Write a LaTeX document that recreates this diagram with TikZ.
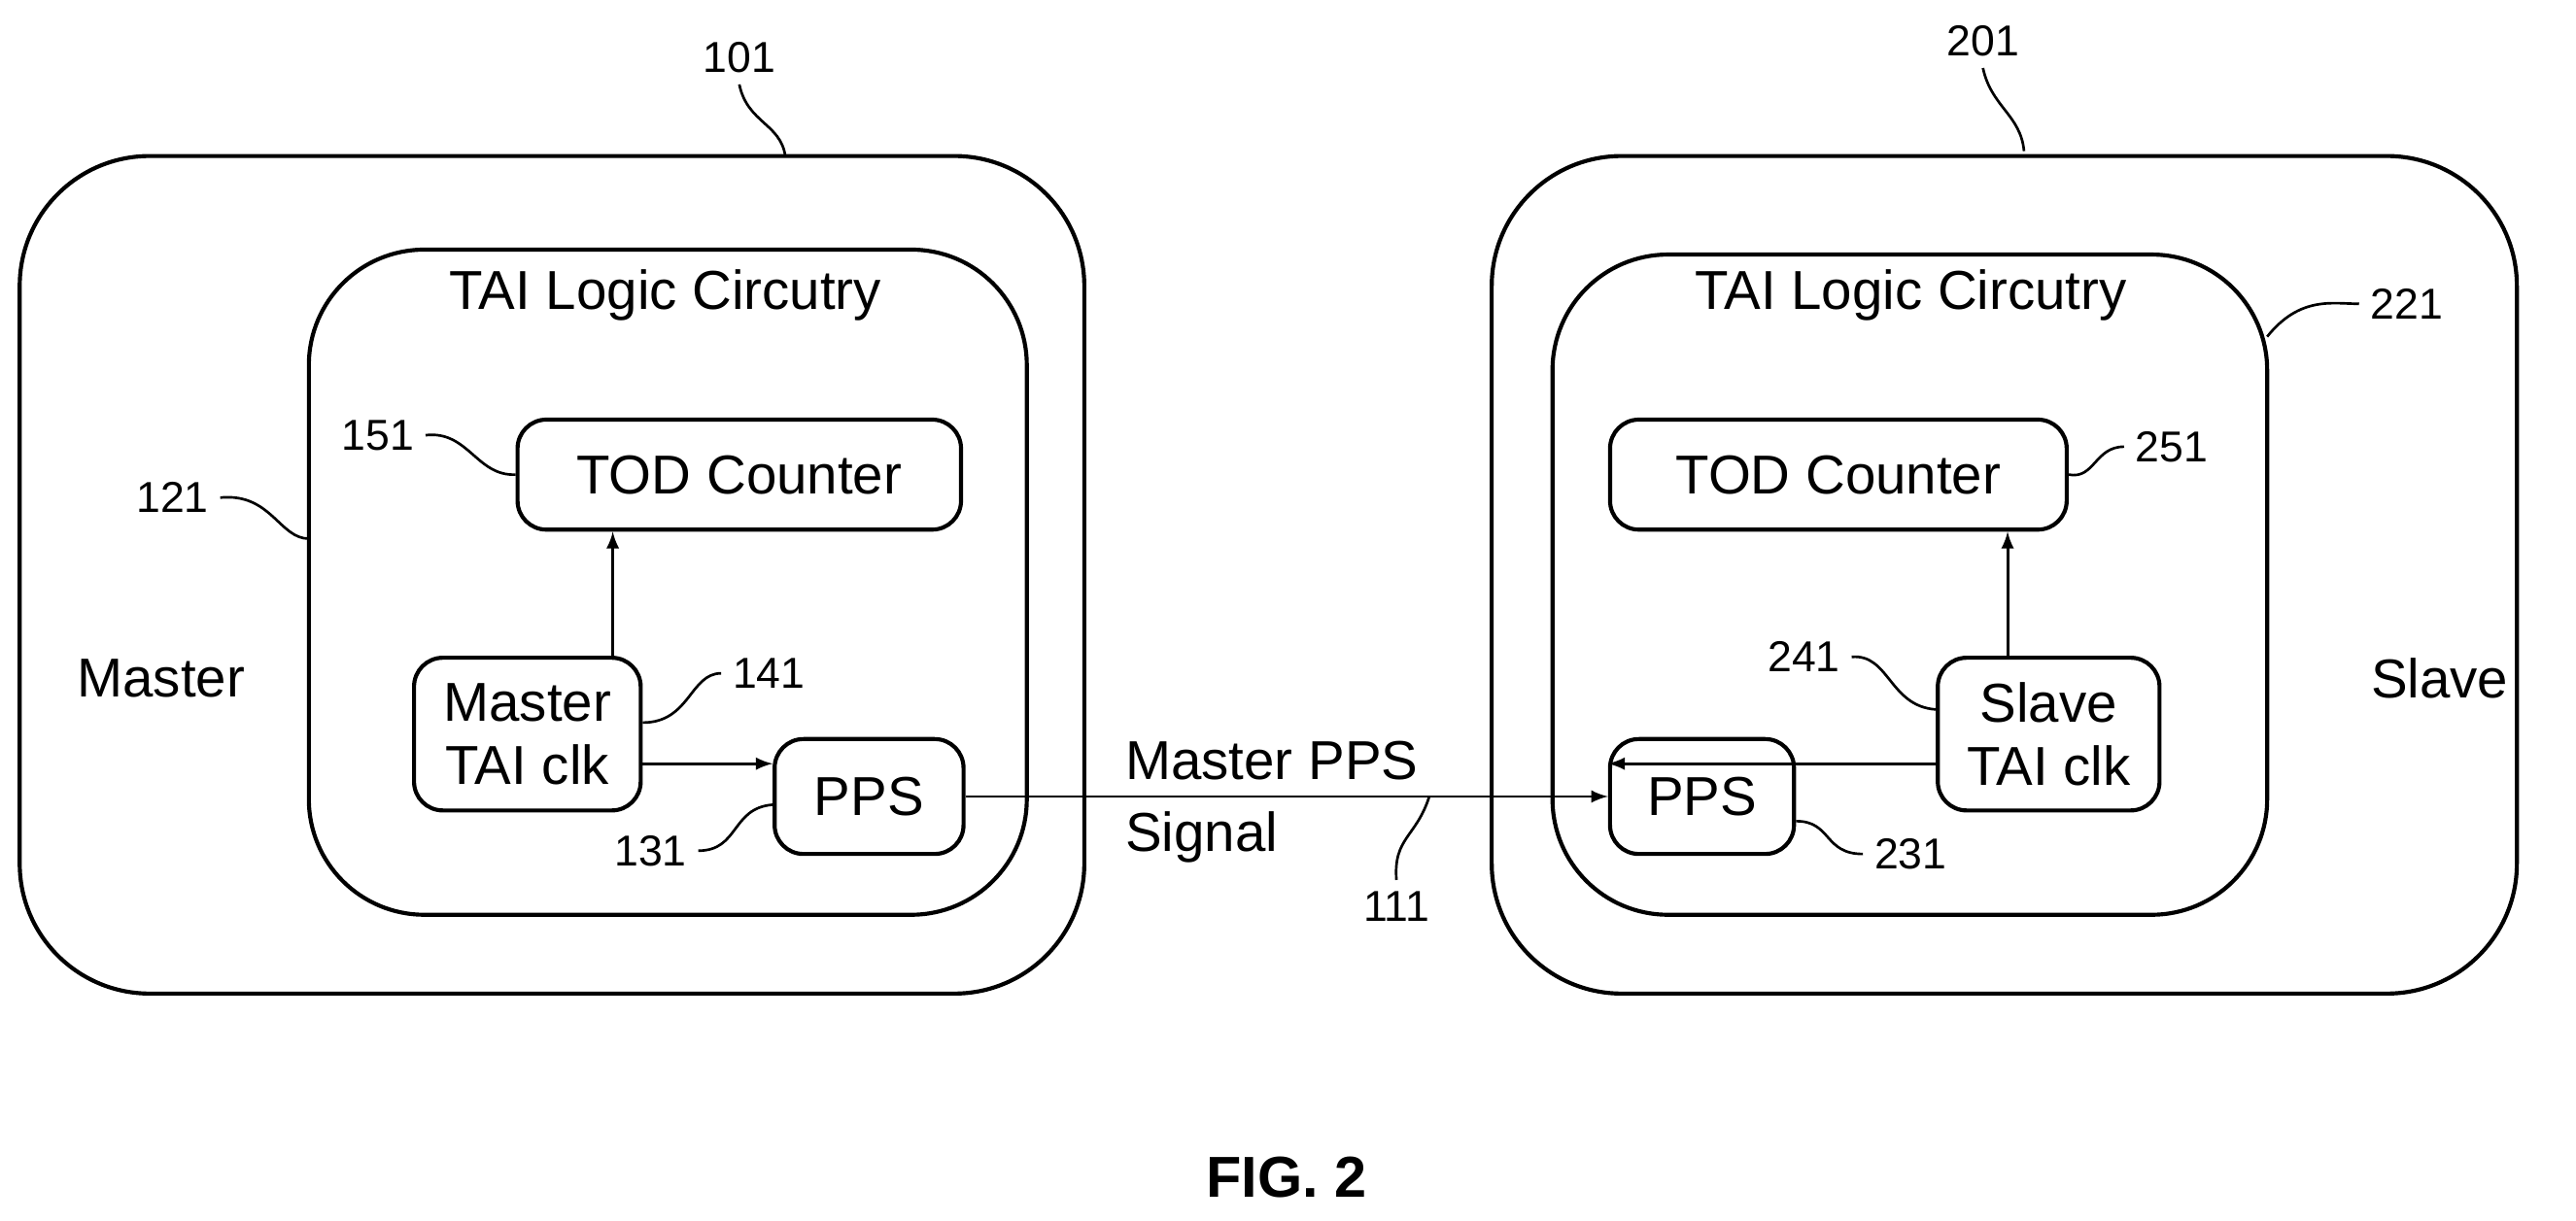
\documentclass[tikz,border=0pt]{standalone}
\usepackage{fontspec}
\setmainfont{Liberation Sans}
\begin{document}
\begin{tikzpicture}[x=0.02cm,y=-0.02cm,line width=1.4pt,
  big/.style={font=\fontsize{19}{22}\selectfont},
  lab/.style={font=\fontsize{15}{18}\selectfont},
  blk/.style={draw,rounded corners=10pt,inner sep=0pt},
  lead/.style={line width=0.9pt},
  arr/.style={-latex,line width=1pt}]
\useasboundingbox (0,0) rectangle (1568,743);
% outer boxes
\draw[rounded corners=45pt] (12,95) rectangle (660,605);
\draw[rounded corners=40pt] (188,152) rectangle (625,557);
\draw[rounded corners=45pt] (908,95) rectangle (1532,605);
\draw[rounded corners=40pt] (945,155) rectangle (1380,557);
\node[big] (t1) at (405,180) {TAI Logic Circutry};
\node[big] (t2) at (1163,180) {TAI Logic Circutry};
% blocks
\node[blk,minimum width=270\pgflinewidth*0+5.4cm,minimum height=1.34cm,big] (tod1) at (450,289) {TOD Counter};
\node[blk,minimum width=5.56cm,minimum height=1.34cm,big] (tod2) at (1119,289) {TOD Counter};
\node[blk,minimum width=2.76cm,minimum height=1.86cm,big,align=center] (mc) at (321,447) {Master\\TAI clk};
\node[blk,minimum width=2.7cm,minimum height=1.86cm,big,align=center] (sc) at (1247,447) {Slave\\TAI clk};
\node[blk,minimum width=2.3cm,minimum height=1.4cm,big] (pps1) at (529,485) {PPS};
\node[blk,minimum width=2.24cm,minimum height=1.4cm,big] (pps2) at (1036,485) {PPS};
\node[big] (m) at (98,413) {Master};
\node[big] (s) at (1485,413) {Slave};
% connectors
\draw[arr] (mc.north -| 373,0) -- (tod1.south -| 373,0);
\draw[arr] (sc.north -| 1222,0) -- (tod2.south -| 1222,0);
\draw[arr] (mc.east |- 0,465) -- (pps1.west |- 0,465);
\draw[arr] (sc.west |- 0,465) -- (pps2.west |- 0,465) ;
\draw[arr] (pps1.east) -- (pps2.west);
\node[big,anchor=west] (mps) at (678,463) {Master PPS};
\node[big,anchor=west] (sig) at (678,510) {Signal};
% labels
\node[lab] (l101) at (450,35) {101};
\node[lab] (l201) at (1207,25) {201};
\node[lab] (l221) at (1465,185) {221};
\node[lab] (l121) at (105,303) {121};
\node[lab] (l151) at (230,265) {151};
\node[lab] (l251) at (1322,272) {251};
\node[lab] (l141) at (468,410) {141};
\node[lab] (l241) at (1098,400) {241};
\node[lab] (l131) at (396,518) {131};
\node[lab] (l231) at (1163,520) {231};
\node[lab] (l111) at (850,552) {111};
\coordinate (c101) at (478,95);
\coordinate (c201) at (1232,92);
\coordinate (c221) at (1380,205);
\coordinate (c121) at (188,328);
\coordinate (c111) at (870,485);
\draw[lead] (l101.south) .. controls (455,75) and (475,75) .. (c101);
\draw[lead] (l201.south) .. controls (1212,65) and (1230,70) .. (c201);
\draw[lead] (l221.west) .. controls (1420,185) and (1400,180) .. (c221);
\draw[lead] (l121.east) .. controls (165,300) and (170,328) .. (c121);
\draw[lead] (l151.east) .. controls (285,262) and (290,290) .. (tod1.west);
\draw[lead] (l251.west) .. controls (1275,272) and (1275,292) .. (tod2.east);
\draw[lead] (l141.west) .. controls (420,410) and (420,440) .. (mc.east|-0,440);
\draw[lead] (l241.east) .. controls (1150,398) and (1150,430) .. (sc.west|-0,432);
\draw[lead] (l131.east) .. controls (450,518) and (445,492) .. (pps1.west|-0,490);
\draw[lead] (l231.west) .. controls (1110,520) and (1115,500) .. (pps2.east|-0,500);
\draw[lead] (l111.north) .. controls (848,510) and (862,510) .. (c111);
\node[font=\bfseries\fontsize{20}{24}\selectfont] (fig) at (783,717) {FIG. 2};
\end{tikzpicture}
\end{document}
